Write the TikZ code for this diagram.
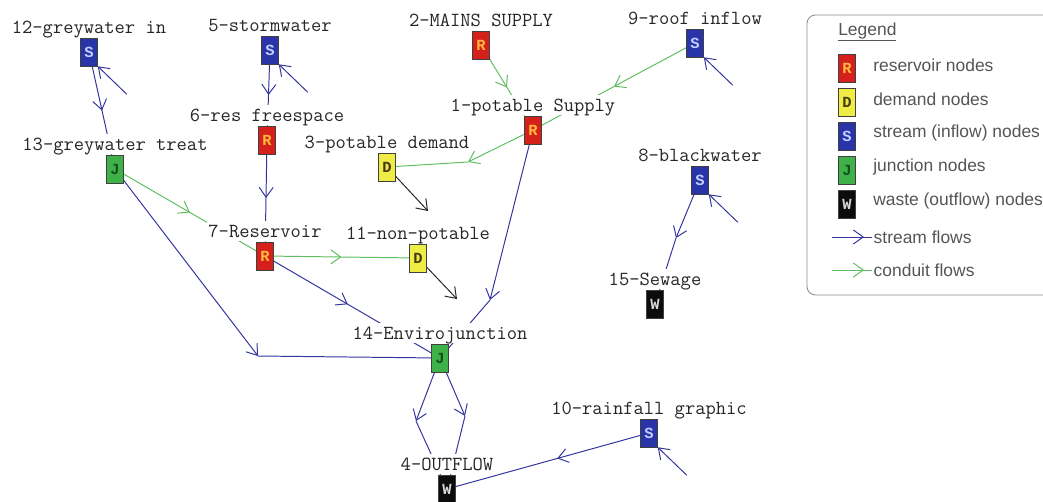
\documentclass[tikz,border=0pt]{standalone}
\usepackage{fontspec}
\setmainfont{Liberation Sans}
\usetikzlibrary{arrows.meta,positioning,calc,backgrounds,decorations.markings}
\newfontfamily\boxfont{Liberation Mono}

\definecolor{resfill}{RGB}{214,32,28}
\definecolor{restext}{RGB}{255,186,60}
\definecolor{demfill}{RGB}{240,236,70}
\definecolor{demtext}{RGB}{70,60,20}
\definecolor{strfill}{RGB}{40,52,168}
\definecolor{strtext}{RGB}{196,206,255}
\definecolor{junfill}{RGB}{62,178,72}
\definecolor{juntext}{RGB}{20,80,30}
\definecolor{wasfill}{RGB}{12,12,12}
\definecolor{wastext}{RGB}{215,215,215}
\definecolor{streamc}{RGB}{52,52,160}
\definecolor{conduitc}{RGB}{96,190,96}
\definecolor{legtext}{RGB}{85,85,85}

\begin{document}
\begin{tikzpicture}[x=0.025cm, y=-0.025cm, >={Straight Barb[length=7pt,width=10pt]}]
    \tikzset{
        unit/.style={draw=black!75, rectangle, minimum width=0.425cm, minimum height=0.7cm, inner sep=0pt, font=\boxfont\bfseries\fontsize{11}{11}\selectfont},
        resv/.style={unit, fill=resfill, text=restext},
        dem/.style={unit, fill=demfill, text=demtext},
        strm/.style={unit, fill=strfill, text=strtext},
        junc/.style={unit, fill=junfill, text=juntext},
        wast/.style={unit, fill=wasfill, text=wastext},
        lbl/.style={fill=white, inner xsep=1pt, inner ysep=0.3pt, text height=11pt, text depth=2.6pt, text=black!85, font=\ttfamily\fontsize{14.2}{16}\selectfont\addfontfeature{FakeBold=0.6}},
        lgd/.style={inner sep=0pt, text=legtext, font=\fontsize{12.4}{14}\selectfont},
        stream/.style={color=streamc, line width=0.7pt},
        conduit/.style={color=conduitc, line width=0.7pt},
        outflow/.style={color=black!85, line width=0.7pt},
        midflow/.style={postaction={decorate}, decoration={markings, mark=at position #1 with {\arrow{>}}}},
        midflow/.default=0.5
    }
    \useasboundingbox (0,0) rectangle (1043,501);

    % nodes of the network
    \node [strm, label={[lbl]above:12-greywater in}] (s12) at (89,52) {S};
    \node [strm, label={[lbl]above:5-stormwater}] (s5) at (270,50) {S};
    \node [resv, label={[lbl]above:2-MAINS SUPPLY}] (r2) at (481,45) {R};
    \node [strm, label={[lbl]above:9-roof inflow}] (s9) at (695,43) {S};
    \node [resv, label={[lbl]above:1-potable Supply}] (r1) at (533,130) {R};
    \node [resv, label={[lbl]above:6-res freespace}] (r6) at (267,140) {R};
    \node [dem, label={[lbl]above:3-potable demand}] (d3) at (387,167) {D};
    \node [junc, label={[lbl]above:13-greywater treat}] (j13) at (115,169) {J};
    \node [strm, label={[lbl]above:8-blackwater}] (s8) at (700,180) {S};
    \node [resv, label={[lbl]above:7-Reservoir}] (r7) at (265,256) {R};
    \node [dem, label={[lbl]above:11-non-potable}] (d11) at (418,258) {D};
    \node [wast, label={[lbl]above:15-Sewage}] (w15) at (655,304) {W};
    \node [junc, label={[lbl]above:14-Envirojunction}] (j14) at (440,358) {J};
    \node [strm, label={[lbl]above:10-rainfall graphic}] (s10) at (649,433) {S};
    \node [wast, label={[lbl]above:4-OUTFLOW}] (w4) at (447,489) {W};

    \coordinate (b13) at (258,356);
    \coordinate (b1) at (490,300);
    \coordinate (bl) at (416,421);
    \coordinate (br) at (465,416);
    \coordinate (b8) at (676,238);
    \coordinate (b3) at (468,162);
    \coordinate (o3) at (428,211);
    \coordinate (o11) at (457,299);

    \begin{scope}[on background layer]
        % stream flows
        \draw [stream, midflow] (s12) -- (j13);
        \draw [stream, midflow] (s5) -- (r6);
        \draw [stream, midflow] (r6) -- (r7);
        \draw [stream, midflow=0.47] (r7) -- (j14);
        \draw [stream, ->] (j13) -- (b13);
        \draw [stream] (b13) -- (j14);
        \draw [stream, ->] (r1) -- (b1);
        \draw [stream] (b1) -- (j14);
        \draw [stream, ->] (j14) -- (bl);
        \draw [stream] (bl) -- (w4);
        \draw [stream, ->] (j14) -- (br);
        \draw [stream] (br) -- (w4);
        \draw [stream, midflow=0.45] (s10) -- (w4);
        \draw [stream, ->] (s8) -- (b8);
        \draw [stream] (b8) -- (w15);
        % inflows
        \foreach \s in {s12,s5,s9,s8,s10}
            \draw [stream, ->] ($(\s.south east)+(29,28)$) -- (\s.south east);
        % conduit flows
        \draw [conduit, midflow] (r2) -- (r1);
        \draw [conduit, midflow] (s9) -- (r1);
        \draw [conduit, ->] (r1) -- (b3);
        \draw [conduit] (b3) -- (d3);
        \draw [conduit, midflow] (j13) -- (r7);
        \draw [conduit, midflow] (r7) -- (d11);
        % demand outflows
        \draw [outflow, ->] (d3) -- (o3);
        \draw [outflow, ->] (d11) -- (o11);
    \end{scope}

    % Legend
    \draw [black!45, line width=0.6pt, rounded corners=6pt] (1043,15) -| (807,295) -- (1043,295);
    \node [lgd, anchor=west] (legtitle) at (838,32) {\underline{Legend}};
    \node [resv] (kr) at (847,68) {R};
    \node [dem] (kd) at (847,102) {D};
    \node [strm] (ks) at (847,136) {S};
    \node [junc] (kj) at (847,170) {J};
    \node [wast] (kw) at (847,204) {W};
    \node [lgd, right=0.43cm of kr, yshift=2pt] (krt) {reservoir nodes};
    \node [lgd, right=0.43cm of kd, yshift=2pt] (kdt) {demand nodes};
    \node [lgd, right=0.43cm of ks, yshift=2pt] (kst) {stream (inflow) nodes};
    \node [lgd, right=0.43cm of kj, yshift=2pt] (kjt) {junction nodes};
    \node [lgd, right=0.43cm of kw, yshift=2pt] (kwt) {waste (outflow) nodes};
    \coordinate (kf1) at (832,237);
    \coordinate (kf2) at (872,237);
    \coordinate (kc1) at (832,270);
    \coordinate (kc2) at (872,270);
    \draw [stream, midflow=0.8] (kf1) -- (kf2);
    \draw [conduit, midflow=0.8] (kc1) -- (kc2);
    \node [lgd, right=1pt of kf2] (kft) {stream flows};
    \node [lgd, right=1pt of kc2] (kct) {conduit flows};
\end{tikzpicture}
\end{document}
